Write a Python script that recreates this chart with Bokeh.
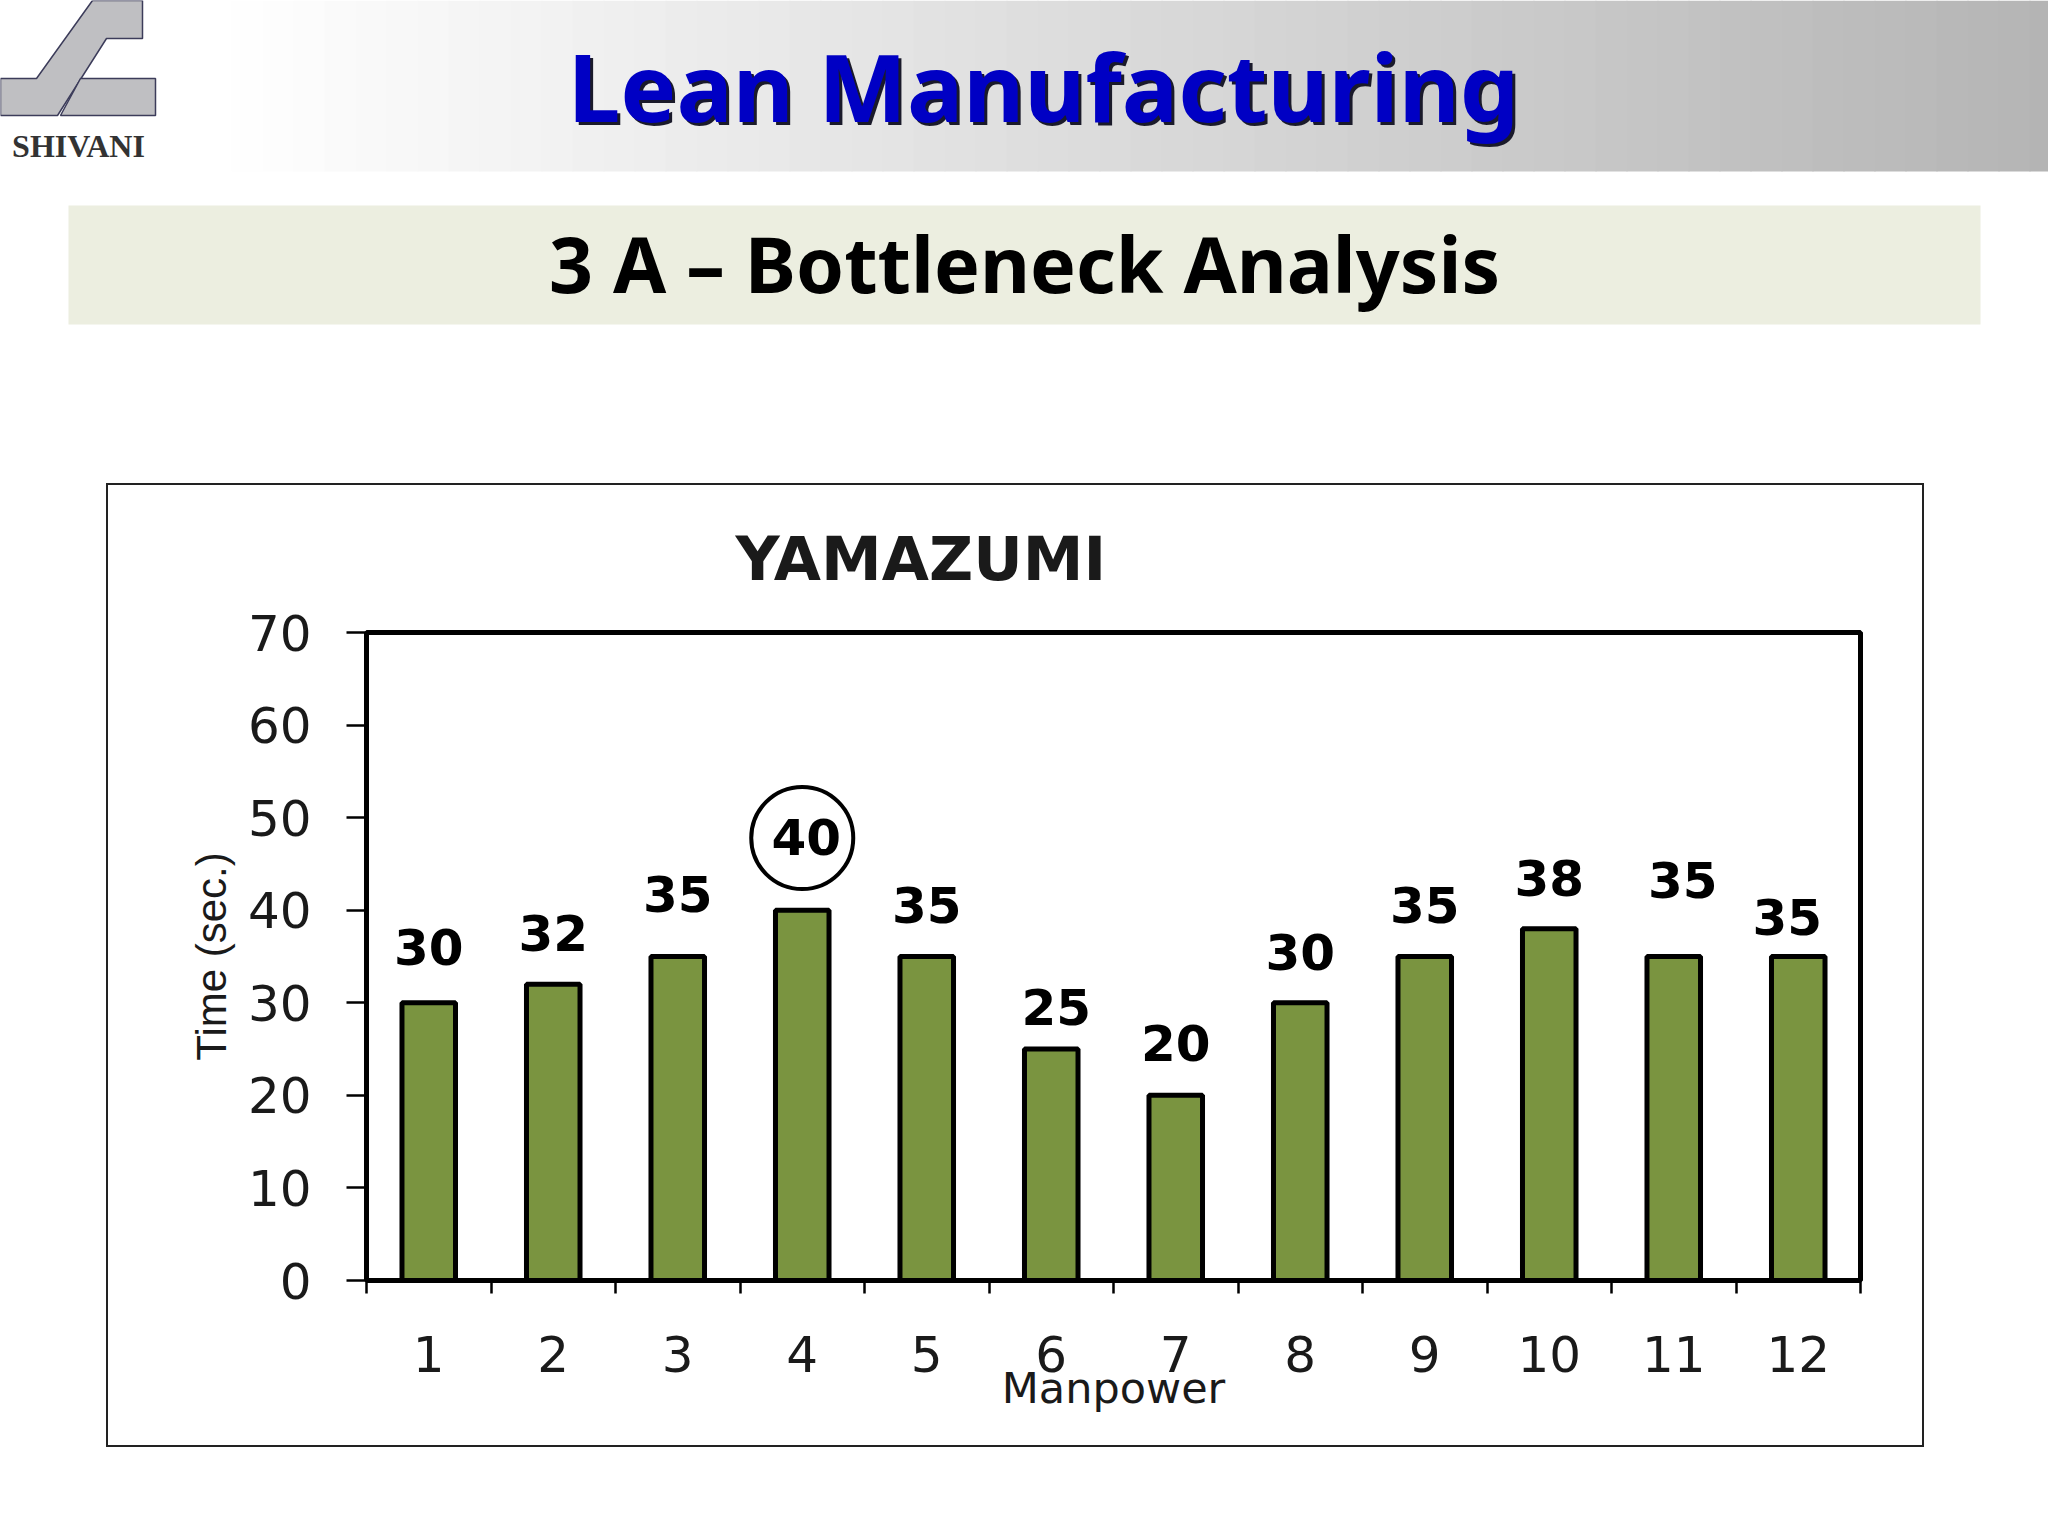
#Bottleneck analysis slide: yamazumi bar chart

from bokeh.embed import file_html
from bokeh.models import ColumnDataSource, FixedTicker
from bokeh.plotting import figure
from bokeh.resources import INLINE

#Chart values

manpower = [1, 2, 3, 4, 5, 6, 7, 8, 9, 10, 11, 12]
cycle_time = [30, 32, 35, 40, 35, 25, 20, 30, 35, 38, 35, 35]
y_ticks = [0, 10, 20, 30, 40, 50, 60, 70]
x_separators = [0.5, 1.5, 2.5, 3.5, 4.5, 5.5, 6.5, 7.5, 8.5, 9.5, 10.5, 11.5, 12.5]

#Hand placement of the value labels, in pixels from the top of each bar

label_dx = [0, 0, 0, 4, 0, 5, 0, 0, 0, 0, 9, -11]
label_dy = [-56, -51, -63, -73, -52, -42, -52, -51, -52, -51, -77, -40]

#Top of the slide, drawn in page pixels

head = figure(width=2048, height=483, output_backend="svg", toolbar_location=None,
              x_range=(0, 2048), y_range=(483, 0), x_axis_location=None, y_axis_location=None,
              min_border=0, outline_line_color=None)
head.grid.visible = False

#Header strip, white on the left going to grey on the right

strip_left = [200 + i * 31 for i in range(60)]
strip_right = [v + 32 for v in strip_left]
strip_color = ["#%02x%02x%02x" % ((255 - int(75 * i / 59),) * 3) for i in range(60)]
head.quad(left=strip_left, right=strip_right, top=0, bottom=171, fill_color=strip_color, line_color=None)

#Logo

head.patches(xs=[[92, 142, 142, 106, 57, 0, 0, 36], [80, 155, 155, 60]],
             ys=[[0, 0, 38, 38, 115, 115, 78, 78], [78, 78, 115, 115]],
             fill_color="#bfbfc2", line_color="#3c3c5a", line_width=1.5)
head.text(x=[78], y=[145], text=["SHIVANI"], text_font={"value": "Liberation Serif"}, text_font_style="bold",
          text_font_size={"value": "32px"}, text_color="#333333", text_align="center", text_baseline="middle")

#Slide titles

head.text(x=[1046], y=[88], text=["Lean Manufacturing"], text_font={"value": "Noto Sans"}, text_font_style="bold",
          text_font_size={"value": "94px"}, text_color="#1a1a2a", text_align="center", text_baseline="middle")
head.text(x=[1043], y=[85], text=["Lean Manufacturing"], text_font={"value": "Noto Sans"}, text_font_style="bold",
          text_font_size={"value": "94px"}, text_color="#0000c4", text_align="center", text_baseline="middle")

head.quad(left=[68], right=[1980], top=[205], bottom=[324], fill_color="#eceee0", line_color=None)
head.text(x=[1024], y=[263], text=["3 A \u2013 Bottleneck Analysis"], text_font={"value": "Noto Sans"},
          text_font_style="bold", text_font_size={"value": "77px"}, text_color="black",
          text_align="center", text_baseline="middle")

#The chart sits in its own bordered box

plot = figure(width=1818, height=964, output_backend="svg", toolbar_location=None,
              x_range=(0.5, 12.5), y_range=(0, 70), title="YAMAZUMI",
              min_border_left=258, min_border_right=66, min_border_top=147, min_border_bottom=169,
              margin=(0, 0, 0, 106), styles={"border": "2px solid #222222", "box-sizing": "border-box"})

plot.grid.visible = False
plot.outline_line_color = "black"
plot.outline_line_width = 5

plot.title.text_font = "DejaVu Sans"
plot.title.text_font_size = "61px"
plot.title.text_font_style = "bold"
plot.title.text_color = "#1a1a1a"
plot.title.align = "left"
plot.title.offset = 369
plot.title.vertical_align = "top"
plot.title.standoff = 73

#Bars and their value labels

source = ColumnDataSource(data=dict(
    x=manpower,
    top=cycle_time,
    text=[str(v) for v in cycle_time],
    dx=label_dx,
    dy=label_dy,
))

plot.vbar(x="x", top="top", bottom=0, width=0.43, source=source,
          fill_color="#7a9440", line_color="black", line_width=5)

plot.text(x="x", y="top", text="text", x_offset="dx", y_offset="dy", source=source,
          text_font={"value": "DejaVu Sans"}, text_font_style="bold", text_font_size={"value": "50px"},
          text_color="black", text_align="center", text_baseline="middle")

#Circle around the longest station

peak = cycle_time.index(max(cycle_time))
plot.scatter(x=[manpower[peak]], y=[cycle_time[peak] + 7.8], marker="circle", size=102,
             fill_alpha=0, line_color="black", line_width=4)

#Axes

xaxis = plot.xaxis[0]
xaxis.ticker = FixedTicker(ticks=manpower, minor_ticks=x_separators)
xaxis.axis_label = "Manpower"
xaxis.axis_label_text_font = "DejaVu Sans"
xaxis.axis_label_text_font_size = "43px"
xaxis.axis_label_text_font_style = "normal"
xaxis.axis_label_text_color = "#1a1a1a"
xaxis.axis_label_standoff = -12
xaxis.major_tick_line_color = None
xaxis.major_tick_in = 0
xaxis.major_tick_out = 0
xaxis.minor_tick_line_color = "black"
xaxis.minor_tick_line_width = 2.5
xaxis.minor_tick_in = 0
xaxis.minor_tick_out = 13
xaxis.major_label_standoff = 42
xaxis.major_label_text_font = "DejaVu Sans"
xaxis.major_label_text_font_size = "50px"
xaxis.major_label_text_color = "#1a1a1a"
xaxis.axis_line_color = "black"
xaxis.axis_line_width = 5

yaxis = plot.yaxis[0]
yaxis.ticker = FixedTicker(ticks=y_ticks, minor_ticks=[])
yaxis.axis_label = "Time (sec.)"
yaxis.axis_label_text_font = "Liberation Sans"
yaxis.axis_label_text_font_size = "42px"
yaxis.axis_label_text_font_style = "normal"
yaxis.axis_label_text_color = "#1a1a1a"
yaxis.axis_label_standoff = 10
yaxis.major_tick_line_color = "black"
yaxis.major_tick_line_width = 2.5
yaxis.major_tick_in = 0
yaxis.major_tick_out = 20
yaxis.major_label_standoff = 35
yaxis.major_label_text_font = "DejaVu Sans"
yaxis.major_label_text_font_size = "50px"
yaxis.major_label_text_color = "#1a1a1a"
yaxis.axis_line_color = "black"
yaxis.axis_line_width = 5

open("out.html", "w").write(file_html([head, plot], INLINE))
